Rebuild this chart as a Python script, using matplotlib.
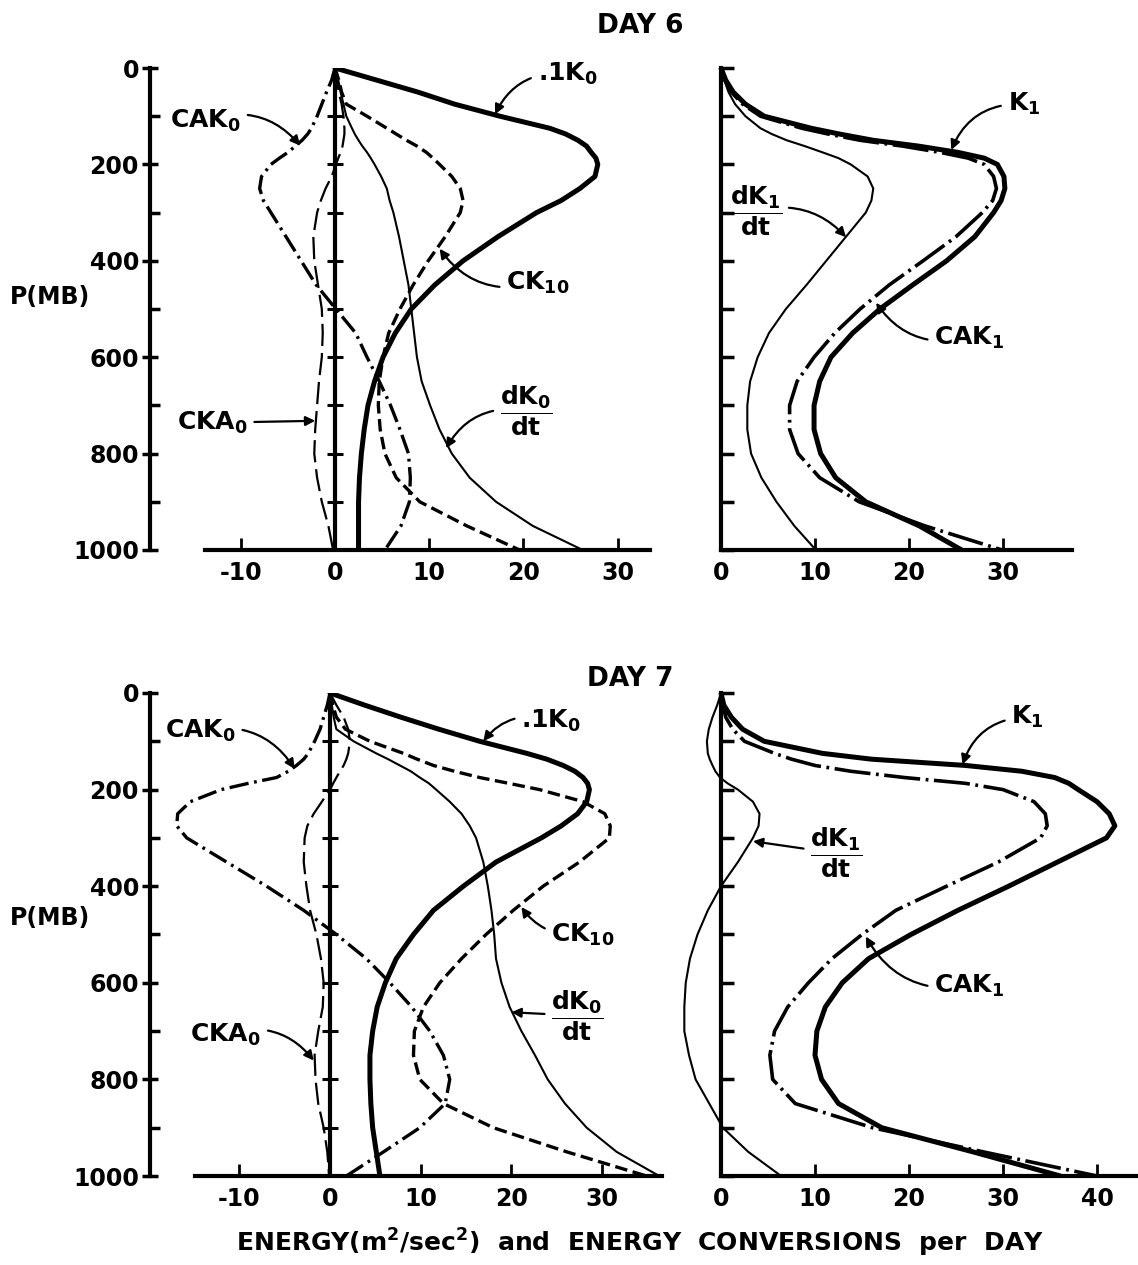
import matplotlib
matplotlib.use('Agg')
import matplotlib.pyplot as plt

plt.rcParams['font.family'] = ['DejaVu Sans']
plt.rcParams['font.weight'] = 'bold'
plt.rcParams['mathtext.default'] = 'bf'
plt.rcParams['lines.scale_dashes'] = False
plt.rcParams['axes.unicode_minus'] = False

# pressure levels (mb) at which the curves were read
P = [0, 25, 50, 75, 100, 125, 137, 150, 162, 175, 187, 200, 225, 250, 275, 300, 350, 400,
     450, 500, 550, 600, 650, 700, 750, 800, 850, 900, 950, 1000]

# DAY 6, zonal mean (left)
k0_6 = [0, 4.4, 8.8, 12.7, 17.5, 22.8, 24.5, 25.8, 26.7, 27.2, 27.7, 27.9, 27.6, 26.0, 24.0, 21.4,
        17.3, 13.6, 10.6, 8.1, 6.4, 5.1, 4.2, 3.5, 3.1, 2.8, 2.6, 2.5, 2.5, 2.5]
ck10_6 = [0, 0.4, 0.7, 1.2, 3.4, 5.5, 6.5, 7.6, 8.7, 9.7, 10.4, 11.1, 12.4, 13.3, 13.6, 13.3,
          11.7, 9.9, 8.3, 6.9, 5.7, 5.1, 4.7, 4.6, 4.8, 5.3, 6.5, 9.0, 14.0, 19.6]
dk0_6 = [0, 0.35, 0.6, 0.9, 1.2, 1.8, 2.1, 2.5, 2.9, 3.4, 3.8, 4.2, 4.9, 5.5, 5.8, 6.2,
         6.8, 7.3, 7.8, 8.1, 8.4, 8.7, 9.2, 10.1, 11.1, 12.4, 14.3, 17.1, 21.0, 26.3]
cak0_6 = [0, -0.35, -0.9, -1.4, -1.9, -2.5, -2.9, -3.5, -4.2, -5.0, -5.9, -6.8, -7.8, -8.0, -7.6, -6.8,
          -5.2, -3.6, -2.0, 0.1, 2.2, 3.4, 4.7, 5.9, 6.9, 7.8, 8.0, 7.9, 7.0, 5.3]
cka0_6 = [0, 0.2, 0.4, 0.7, 0.9, 1.0, 1.0, 0.9, 0.8, 0.6, 0.35, 0.1, -0.35, -1.0, -1.5, -1.9,
          -2.3, -2.2, -1.8, -1.4, -1.3, -1.4, -1.7, -1.9, -2.1, -2.2, -1.9, -1.4, -0.7, -0.2]

# DAY 6, wave 1 (right)
k1_6 = [0, 0.5, 1.3, 2.6, 4.6, 9.6, 12.6, 16.2, 21.0, 25.2, 28.0, 29.4, 30.1, 30.2, 29.8, 29.0,
        27.0, 24.0, 20.4, 16.9, 14.0, 11.7, 10.5, 9.9, 9.9, 10.6, 12.2, 15.4, 21.1, 25.6]
cak1_6 = [0, 0.4, 1.1, 2.3, 4.2, 8.6, 11.4, 14.8, 19.3, 23.3, 26.3, 28.0, 29.0, 29.3, 28.9, 27.8,
          25.0, 21.5, 17.9, 14.8, 12.1, 9.9, 8.1, 7.3, 7.3, 8.2, 10.5, 14.7, 21.7, 29.9]
dk1_6 = [0, 0.35, 0.8, 1.5, 2.6, 4.2, 5.4, 7.0, 8.9, 10.8, 12.5, 13.8, 15.6, 16.2, 16.0, 15.4,
         13.3, 11.2, 9.1, 6.9, 5.1, 3.9, 3.1, 2.8, 2.8, 3.2, 4.3, 5.9, 7.8, 10.1]

# DAY 7, zonal mean (left)
k0_7 = [0, 3.8, 7.8, 12.0, 16.5, 21.7, 23.9, 25.7, 27.0, 27.9, 28.4, 28.6, 28.3, 27.3, 25.5, 23.3,
        18.3, 14.7, 11.4, 9.2, 7.3, 6.1, 5.2, 4.7, 4.4, 4.4, 4.5, 4.7, 5.1, 5.5]
ck10_7 = [0, 0.3, 0.7, 1.7, 4.4, 8.1, 9.6, 11.4, 13.7, 16.5, 19.7, 23.1, 27.9, 30.3, 30.9, 30.8,
          27.5, 23.5, 20.2, 17.2, 14.5, 12.1, 10.3, 9.3, 9.2, 9.9, 12.5, 18.0, 26.1, 34.9]
dk0_7 = [0, 0.2, 0.4, 0.7, 2.6, 5.1, 6.4, 7.7, 8.9, 9.9, 10.9, 11.7, 13.2, 14.5, 15.4, 16.1,
         16.9, 17.4, 17.8, 18.1, 18.3, 18.9, 19.8, 21.1, 22.6, 24.0, 25.9, 28.3, 31.6, 36.3]
cak0_7 = [0, -0.3, -0.7, -1.1, -1.7, -2.4, -2.9, -3.7, -4.6, -5.9, -9.0, -12.0, -15.4, -16.8, -16.9, -15.8,
          -11.4, -7.0, -2.9, 0.7, 4.0, 6.6, 9.0, 11.0, 12.5, 13.2, 12.7, 9.9, 5.9, 1.8]
cka0_7 = [0, 0.7, 1.5, 2.0, 2.2, 2.0, 1.8, 1.5, 1.1, 0.7, 0.35, 0, -0.9, -1.8, -2.5, -2.8,
          -2.9, -2.6, -2.2, -1.5, -1.0, -0.7, -0.8, -1.3, -1.7, -1.6, -1.3, -0.7, -0.3, -0.1]

# DAY 7, wave 1 (right)
k1_7 = [0, 0.3, 1.1, 2.3, 4.6, 10.8, 16.0, 26.0, 32.0, 35.5, 37.0, 38.0, 40.0, 41.3, 41.9, 41.0,
        35.8, 30.6, 25.2, 20.2, 15.7, 12.9, 11.1, 10.2, 10.0, 10.7, 12.5, 17.1, 26.8, 36.1]
cak1_7 = [0, 0.2, 0.5, 1.25, 2.5, 5.7, 7.5, 10.0, 13.8, 19.5, 26.0, 30.0, 33.3, 34.5, 34.7, 34.0,
          29.5, 24.0, 18.6, 15.0, 11.8, 9.3, 7.1, 5.7, 5.2, 5.5, 7.9, 16.1, 27.9, 40.0]
dk1_7 = [0, -0.4, -0.9, -1.3, -1.5, -1.4, -1.2, -0.9, -0.6, -0.1, 0.7, 1.8, 3.4, 4.1, 4.0, 3.4,
         1.8, 0, -1.4, -2.5, -3.3, -3.75, -3.9, -3.9, -3.4, -2.7, -1.25, 0.2, 2.9, 6.4]

# line styles of the original drawing
STYLES = {
    'thick': dict(lw=3.6, solid_capstyle='round', solid_joinstyle='round'),
    'thin': dict(lw=1.5, solid_capstyle='round', solid_joinstyle='round'),
    'ck10': dict(lw=2.4, dashes=(9, 4)),
    'cak0': dict(lw=2.4, dashes=(14, 4, 2, 4)),
    'cka0': dict(lw=1.6, dashes=(16, 5)),
    'cak1': dict(lw=2.6, dashes=(26, 4, 2, 4)),
}

FS = 18
W, H = 1138, 1265


def add_axes(px_left, px_top, px_right, px_bottom):
    ax = fig.add_axes([px_left / W, 1 - px_bottom / H,
                       (px_right - px_left) / W, (px_bottom - px_top) / H])
    ax.set_facecolor('none')
    ax.set_ylim(1000, 0)
    ax.spines['top'].set_visible(False)
    ax.spines['right'].set_visible(False)
    for s in ('left', 'bottom'):
        ax.spines[s].set_linewidth(3)
    return ax


def draw_curves(ax, curves):
    for xs, style in curves:
        ax.plot(xs, P, color='k', **STYLES[style])


def label(ax, text, xytext, xy, rad, ha='left'):
    ax.annotate(text, xy=xy, xytext=xytext, fontsize=FS, ha=ha, va='center',
                arrowprops=dict(arrowstyle='-|>', color='k', lw=1.6, mutation_scale=14,
                                shrinkA=3, shrinkB=0,
                                connectionstyle='arc3,rad=%s' % rad))


def left_panel(ax, xlim, xbounds, xticks, ylab_y):
    ax.set_xlim(*xlim)
    ax.spines['left'].set_bounds(0, 1000)
    ax.spines['bottom'].set_bounds(*xbounds)
    ax.set_yticks(range(0, 1001, 200))
    ax.set_yticks(range(100, 1000, 200), minor=True)
    ax.tick_params(axis='y', which='major', direction='inout', length=12, width=2.5,
                   labelsize=17, pad=2)
    ax.tick_params(axis='y', which='minor', direction='in', length=7, width=2.5)
    ax.set_xticks(xticks)
    ax.tick_params(axis='x', direction='in', length=9, width=2, labelsize=17, pad=8)
    # the zero line with its own tick marks
    ax.plot([0, 0], [0, 1000], color='k', lw=3)
    ax.plot([0] * 9, list(range(100, 1000, 100)), ls='none', marker='_', ms=11, mew=2.2, color='k')
    ax.text(-0.185, ylab_y, 'P(MB)', transform=ax.transAxes, fontsize=17,
            ha='center', va='center')


def right_panel(ax, xlim, xbounds, xticks):
    ax.set_xlim(*xlim)
    ax.spines['left'].set_position(('data', 0))
    ax.spines['left'].set_bounds(0, 1000)
    ax.spines['bottom'].set_bounds(*xbounds)
    ax.set_yticks(range(0, 1001, 100))
    ax.tick_params(axis='y', direction='in', length=9, width=2.5, labelleft=False)
    ax.set_xticks(xticks)
    ax.tick_params(axis='x', direction='in', length=9, width=2, labelsize=17, pad=8)


fig = plt.figure(figsize=(W / 100, H / 100), dpi=100)

# ---------------- DAY 6 ----------------
ax = add_axes(150, 68, 690, 550)
left_panel(ax, (-19.64, 37.69), (-13.8, 33.4), [-10, 0, 10, 20, 30], 0.525)
draw_curves(ax, [(k0_6, 'thick'), (ck10_6, 'ck10'), (dk0_6, 'thin'),
                 (cak0_6, 'cak0'), (cka0_6, 'cka0')])
label(ax, '.1K$_0$', (21.5, 12), (17.0, 96), 0.35)
label(ax, 'CAK$_0$', (-17.5, 110), (-3.7, 161), -0.35)
label(ax, 'CK$_{10}$', (18.2, 446), (11.1, 375), -0.35)
label(ax, r'$\dfrac{dK_0}{dt}$', (20.3, 711), (11.8, 789), 0.35, ha='center')
label(ax, 'CKA$_0$', (-16.8, 736), (-2.1, 732), 0.0)

ax = add_axes(680, 68, 1138, 550)
right_panel(ax, (-4.36, 44.36), (0, 37.3), [0, 10, 20, 30])
draw_curves(ax, [(k1_6, 'thick'), (cak1_6, 'cak1'), (dk1_6, 'thin')])
label(ax, 'K$_1$', (30.5, 75), (24.5, 170), 0.35)
label(ax, r'$\dfrac{dK_1}{dt}$', (3.7, 297), (13.3, 351), -0.3, ha='center')
label(ax, 'CAK$_1$', (22.7, 559), (16.5, 487), -0.35)

# ---------------- DAY 7 ----------------
ax = add_axes(150, 693, 690, 1176)
left_panel(ax, (-19.85, 39.69), (-14.9, 36.6), [-10, 0, 10, 20, 30], 0.534)
draw_curves(ax, [(k0_7, 'thick'), (ck10_7, 'ck10'), (dk0_7, 'thin'),
                 (cak0_7, 'cak0'), (cka0_7, 'cka0')])
label(ax, '.1K$_0$', (21.1, 57), (16.9, 100), 0.35)
label(ax, 'CAK$_0$', (-18.2, 79), (-3.9, 157), -0.35)
label(ax, 'CK$_{10}$', (24.4, 500), (21.1, 443), -0.3)
label(ax, r'$\dfrac{dK_0}{dt}$', (27.3, 668), (20.0, 661), 0.0, ha='center')
label(ax, 'CKA$_0$', (-15.4, 707), (-1.8, 761), -0.35)

ax = add_axes(680, 693, 1138, 1176)
right_panel(ax, (-4.36, 44.36), (0, 44.3), [0, 10, 20, 30, 40])
draw_curves(ax, [(k1_7, 'thick'), (cak1_7, 'cak1'), (dk1_7, 'thin')])
label(ax, 'K$_1$', (30.9, 50), (25.7, 148), 0.35)
label(ax, r'$\dfrac{dK_1}{dt}$', (12.3, 332), (3.4, 307), 0.0, ha='center')
label(ax, 'CAK$_1$', (22.7, 607), (15.4, 504), -0.35)

# titles and common x label
fig.text(640 / W, 1 - 26 / H, 'DAY 6', fontsize=19, ha='center', va='center')
fig.text(630 / W, 1 - 679 / H, 'DAY 7', fontsize=19, ha='center', va='center')
fig.text(640 / W, 1 - 1243 / H,
         'ENERGY(m$^2$/sec$^2$)  and  ENERGY  CONVERSIONS  per  DAY',
         fontsize=18, ha='center', va='center')

fig.savefig('out.png', dpi=100)
